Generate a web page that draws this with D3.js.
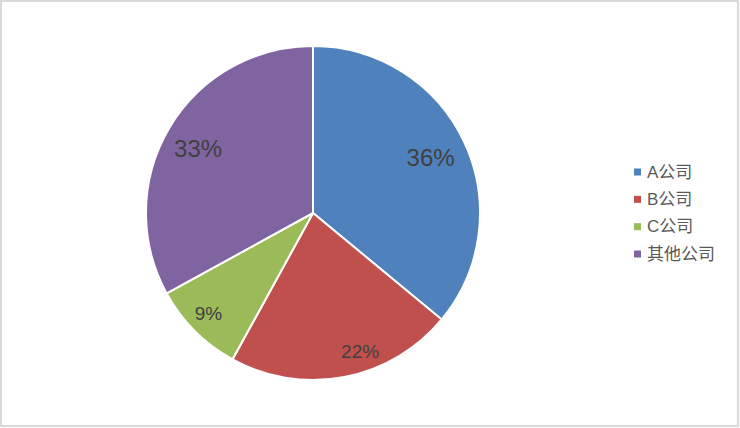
<!DOCTYPE html>
<html><head><meta charset="utf-8">
<script src="https://cdn.jsdelivr.net/npm/d3@7"></script>
<style>body{margin:0;background:#fff}svg{display:block}text{font-family:"Liberation Sans",Arial,"Noto Sans CJK SC",sans-serif}</style>
</head><body><svg id="c" width="740" height="428"></svg>
<script>
const categories = ["A公司","B公司","C公司","其他公司"];
const values = [36, 22, 9, 33];
const labels = ["36%","22%","9%","33%"];
const colors = ["#4f81bd","#c0504d","#9bbb59","#8064a2"];
const labelSizes = [24, 19, 19, 24];
const labelRadius = [130, 146, 145, 132];
const labelAngleShift = [0, -0.14, 0.02, -0.02];

const svg = d3.select("#c");
svg.append("rect").attr("x",1).attr("y",1).attr("width",737).attr("height",425)
  .attr("fill","#fff").attr("stroke","#d9d9d9").attr("stroke-width",2);

const cx = 313, cy = 213, R = 167;
const g = svg.append("g").attr("transform",`translate(${cx},${cy})`);
const pie = d3.pie().sort(null).value(d=>d)(values);
const arc = d3.arc().innerRadius(0).outerRadius(R);
g.selectAll("path").data(pie).join("path")
  .attr("d",arc).attr("fill",(d,i)=>colors[i])
  .attr("stroke","#fff").attr("stroke-width",2).attr("stroke-linejoin","round");

g.selectAll("text.lbl").data(pie).join("text").attr("class","lbl")
  .attr("x",(d,i)=>{const a=(d.startAngle+d.endAngle)/2+labelAngleShift[i];return Math.sin(a)*labelRadius[i];})
  .attr("y",(d,i)=>{const a=(d.startAngle+d.endAngle)/2+labelAngleShift[i];return -Math.cos(a)*labelRadius[i];})
  .attr("text-anchor","middle").attr("dominant-baseline","central")
  .attr("font-size",(d,i)=>labelSizes[i]).attr("fill","#404040")
  .text((d,i)=>labels[i]);

const ly = d3.scalePoint().domain(categories).range([172,254]);
const lg = svg.append("g");
const items = lg.selectAll("g").data(categories).join("g")
  .attr("transform",d=>`translate(634,${ly(d)})`);
items.append("rect").attr("x",0).attr("y",-3.5).attr("width",7).attr("height",7)
  .attr("fill",(d,i)=>colors[i]);
items.append("text").attr("x",13).attr("y",0).attr("dominant-baseline","central")
  .attr("font-size",17).attr("fill","#595959").text(d=>d);
</script></body></html>
